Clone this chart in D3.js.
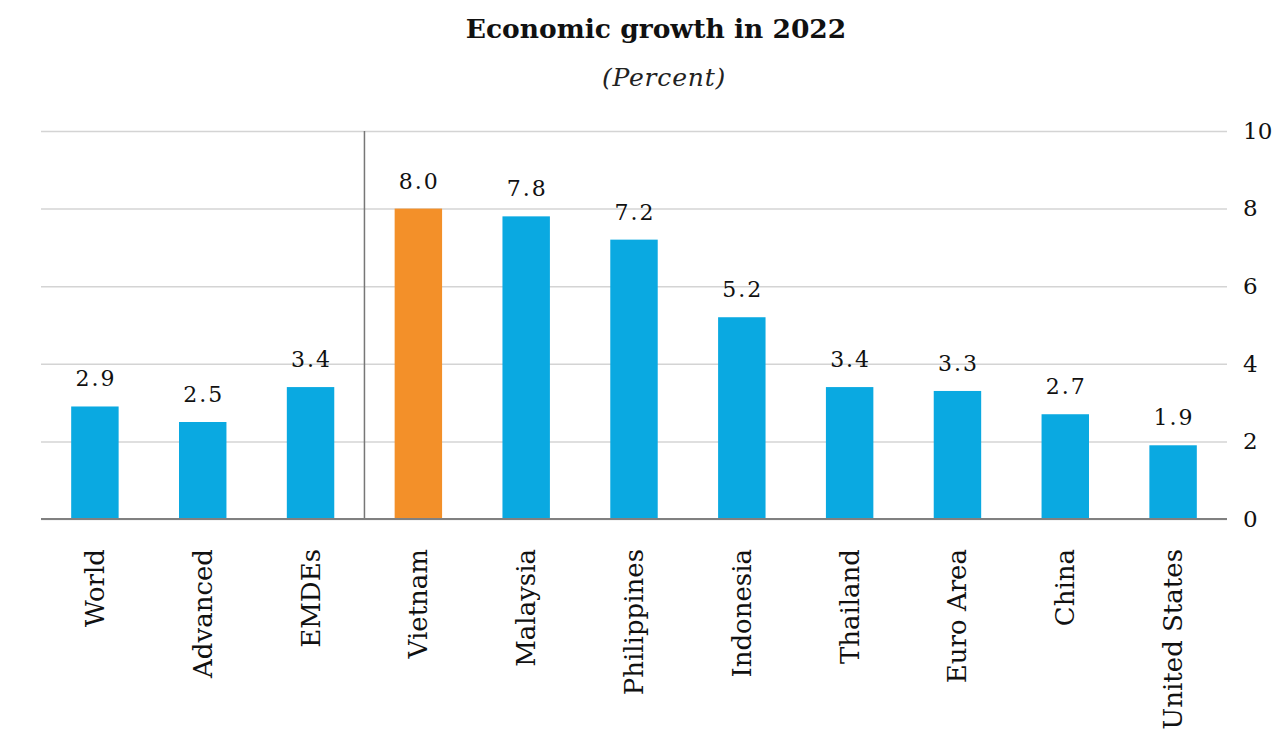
<!DOCTYPE html>
<html>
<head>
<meta charset="utf-8">
<script src="https://cdn.jsdelivr.net/npm/d3@7"></script>
<style>
  body { margin: 0; background: #fff; }
  text { font-family: "DejaVu Serif", serif; }
</style>
</head>
<body>
<svg width="1280" height="732"></svg>
<script>
var categories = ["World", "Advanced", "EMDEs", "Vietnam", "Malaysia", "Philippines",
                  "Indonesia", "Thailand", "Euro Area", "China", "United States"];
var growth = [2.9, 2.5, 3.4, 8.0, 7.8, 7.2, 5.2, 3.4, 3.3, 2.7, 1.9];
var yTicks = [0, 2, 4, 6, 8, 10];
var highlight = "Vietnam";

var svg = d3.select("svg");

var x = d3.scaleBand().domain(categories).range([41, 1227])
          .paddingInner(0.56).paddingOuter(0.28);
var y = d3.scaleLinear().domain([0, 10]).range([519, 131]);

// title
svg.append("text").attr("x", 656).attr("y", 38)
   .attr("text-anchor", "middle").attr("font-size", 26.5).attr("font-weight", "bold")
   .attr("fill", "#111").text("Economic growth in 2022");
svg.append("text").attr("x", 664).attr("y", 86)
   .attr("text-anchor", "middle").attr("font-size", 25).attr("font-style", "italic")
   .attr("letter-spacing", 0.8).attr("fill", "#222").text("(Percent)");

// gridlines + right axis labels
var yAxis = svg.append("g")
   .attr("transform", "translate(1227,0)")
   .call(d3.axisRight(y).tickValues(yTicks).tickSize(-1186).tickFormat(d3.format("d")));
yAxis.select(".domain").remove();
yAxis.selectAll(".tick line").attr("stroke", "#d4d4d4").attr("stroke-width", 1.5);
yAxis.selectAll(".tick text").attr("x", 16).attr("font-size", 23)
   .attr("font-family", "DejaVu Serif, serif").attr("fill", "#111");

// separator between aggregates and countries
var sepX = x("EMDEs") + x.bandwidth() + (x.step() - x.bandwidth()) / 2;
svg.append("line").attr("x1", sepX).attr("x2", sepX)
   .attr("y1", y(10)).attr("y2", y(0)).attr("stroke", "#777").attr("stroke-width", 1.5);

// bars
svg.selectAll("rect.bar").data(categories).enter().append("rect")
   .attr("class", "bar")
   .attr("x", function(d) { return x(d); })
   .attr("y", function(d, i) { return y(growth[i]); })
   .attr("width", x.bandwidth())
   .attr("height", function(d, i) { return y(0) - y(growth[i]); })
   .attr("fill", function(d) { return d == highlight ? "#F39029" : "#0AA9E1"; });

// baseline
svg.append("line").attr("x1", 41).attr("x2", 1227)
   .attr("y1", y(0)).attr("y2", y(0)).attr("stroke", "#808080").attr("stroke-width", 2);

// value labels
svg.selectAll("text.val").data(categories).enter().append("text")
   .attr("class", "val")
   .attr("x", function(d) { return x(d) + x.bandwidth() / 2 + 1; })
   .attr("y", function(d, i) { return y(growth[i]) - 20; })
   .attr("text-anchor", "middle").attr("font-size", 22).attr("letter-spacing", 2)
   .attr("fill", "#111")
   .text(function(d, i) { return growth[i].toFixed(1); });

// category labels, rotated
svg.selectAll("text.cat").data(categories).enter().append("text")
   .attr("class", "cat")
   .attr("transform", function(d) {
       return "translate(" + (x(d) + x.bandwidth() / 2 + 9) + ",549) rotate(-90)";
   })
   .attr("text-anchor", "end").attr("font-size", 26).attr("fill", "#111")
   .text(function(d) { return d; });
</script>
</body>
</html>
